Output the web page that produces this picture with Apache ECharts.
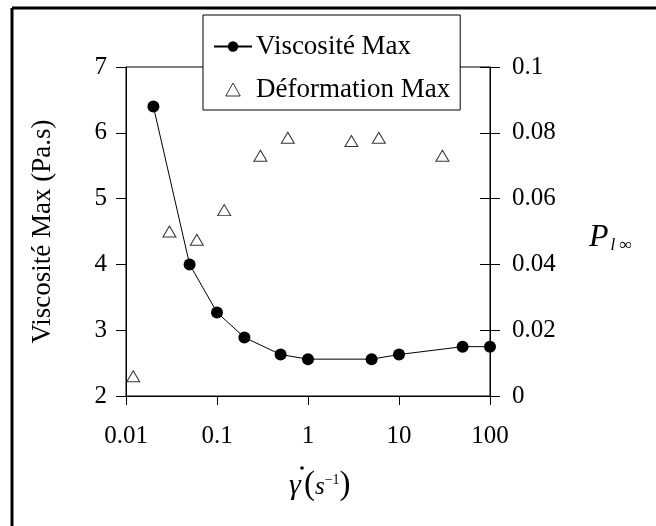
<!DOCTYPE html>
<html>
<head>
<meta charset="utf-8">
<script src="https://cdn.jsdelivr.net/npm/echarts@6/dist/echarts.min.js"></script>
<style>
	html, body { margin: 0; padding: 0; background: #fff; }
	#main { width: 656px; height: 526px; }
</style>
</head>
<body>
<div id="main"></div>
<script>
// shear rate (1/s) and max viscosity (Pa.s)
var viscX = [0.02, 0.05, 0.1, 0.2, 0.5, 1, 5, 10, 50, 100];
var viscY = [6.4, 4.0, 3.27, 2.89, 2.63, 2.56, 2.56, 2.63, 2.75, 2.75];
// shear rate and max deformation
var defX = [0.012, 0.03, 0.06, 0.12, 0.3, 0.6, 3, 6, 30];
var defY = [0.006, 0.05, 0.0475, 0.0565, 0.073, 0.0785, 0.0775, 0.0785, 0.073];
var xTicks = ['0.01', '0.1', '1', '10', '100'];

var font = 'Liberation Serif';
var chart = echarts.init(document.getElementById('main'));

function pairs(xs, ys){
	var out = [];
	for (var i = 0; i < xs.length; i++) {
		out.push([xs[i], ys[i]]);
	}
	return out;
}

var option = {
	animation: false,
	textStyle: { fontFamily: font, color: '#000' },
	grid: {
		left: 126, right: 166, top: 67, bottom: 130,
		show: true, borderColor: '#000', borderWidth: 1, backgroundColor: 'transparent'
	},
	legend: {
		orient: 'vertical',
		left: 203, top: 15,
		padding: [18, 10, 7, 10],
		itemGap: 16,
		itemWidth: 38, itemHeight: 13,
		backgroundColor: '#fff',
		borderColor: '#000', borderWidth: 1,
		textStyle: { fontFamily: font, fontSize: 27, color: '#000', padding: [0, 0, 0, -1] },
		data: [
			{ name: 'Viscosité Max' },
			{ name: 'Déformation Max', icon: 'path://M5,0L10,9L0,9Z',
				itemStyle: { color: '#fff', borderColor: '#000', borderWidth: 1 } }
		]
	},
	xAxis: {
		type: 'log', logBase: 10, min: 0.01, max: 100,
		axisLine: { lineStyle: { color: '#000', width: 1 } },
		axisTick: { inside: false, length: 9, lineStyle: { color: '#000' } },
		minorTick: { show: false },
		splitLine: { show: false },
		axisLabel: {
			fontFamily: font, fontSize: 25, color: '#000', margin: 28,
			formatter: function(v){
				var i = Math.round(Math.log10(v)) + 2;
				return xTicks[i] !== undefined ? xTicks[i] : '';
			}
		}
	},
	yAxis: [
		{
			type: 'value', min: 2, max: 7, interval: 1, position: 'left',
			axisLine: { show: true, lineStyle: { color: '#000' } },
			axisTick: { show: true, inside: false, length: 10, lineStyle: { color: '#000' } },
			splitLine: { show: false },
			axisLabel: { fontFamily: font, fontSize: 25, color: '#000', margin: 19 },
			name: 'Viscosité Max (Pa.s)',
			nameLocation: 'middle',
			nameGap: 70,
			nameTextStyle: { fontFamily: font, fontSize: 27, color: '#000' }
		},
		{
			type: 'value', min: 0, max: 0.1, interval: 0.02, position: 'right',
			axisLine: { show: true, lineStyle: { color: '#000' } },
			axisTick: { show: true, inside: false, length: 10, lineStyle: { color: '#000' } },
			splitLine: { show: false },
			axisLabel: { fontFamily: font, fontSize: 25, color: '#000', margin: 22 }
		},
		{
			// same scale again, only to draw the inward half of the right ticks
			type: 'value', min: 0, max: 0.1, interval: 0.02, position: 'right',
			axisLine: { show: false },
			axisTick: { show: true, inside: true, length: 10, lineStyle: { color: '#000' } },
			splitLine: { show: false },
			axisLabel: { show: false }
		}
	],
	graphic: [
		{ type: 'line', shape: { x1: 12, y1: 8, x2: 656, y2: 8 }, style: { stroke: '#000', lineWidth: 3 } },
		{ type: 'line', shape: { x1: 12, y1: 8, x2: 12, y2: 526 }, style: { stroke: '#000', lineWidth: 3 } },
		// x axis title: gamma dot (s^-1)
		{
			type: 'text', left: 289, top: 471,
			style: { text: 'γ', fontFamily: font, fontStyle: 'italic', fontSize: 30, fill: '#000' }
		},
		{
			type: 'circle', shape: { cx: 302, cy: 468, r: 1.8 }, style: { fill: '#000' }
		},
		{
			type: 'text', left: 304, top: 469,
			style: {
				text: '{p|(}{s|s}{e|−1}{p|)}',
				rich: {
					p: { fontFamily: font, fontSize: 33, fill: '#000', verticalAlign: 'bottom' },
					s: { fontFamily: font, fontStyle: 'italic', fontSize: 25, fill: '#000', verticalAlign: 'bottom', padding: [0, 0, 2, 0] },
					e: { fontFamily: font, fontSize: 14, fill: '#000', verticalAlign: 'top', padding: [4, 0, 0, 0] }
				}
			}
		},
		{
			type: 'text', left: 589, top: 222,
			style: {
				text: '{P|P}{l|l ∞}',
				rich: {
					P: { fontFamily: font, fontStyle: 'italic', fontSize: 32, fill: '#000', verticalAlign: 'top' },
					l: { fontFamily: font, fontStyle: 'italic', fontSize: 17, fill: '#000', verticalAlign: 'bottom', padding: [0, 0, 0, 2] }
				}
			}
		}
	],
	series: [
		{
			name: 'Viscosité Max',
			type: 'line',
			yAxisIndex: 0,
			data: pairs(viscX, viscY),
			symbol: 'circle',
			symbolSize: 12,
			lineStyle: { color: '#000', width: 1 },
			itemStyle: { color: '#000' },
			z: 3
		},
		{
			name: 'Déformation Max',
			type: 'scatter',
			yAxisIndex: 1,
			data: pairs(defX, defY),
			symbol: 'triangle',
			symbolSize: [13, 11],
			itemStyle: { color: '#fff', borderColor: '#000', borderWidth: 1 },
			z: 3
		}
	]
};
chart.setOption(option);
</script>
</body>
</html>
